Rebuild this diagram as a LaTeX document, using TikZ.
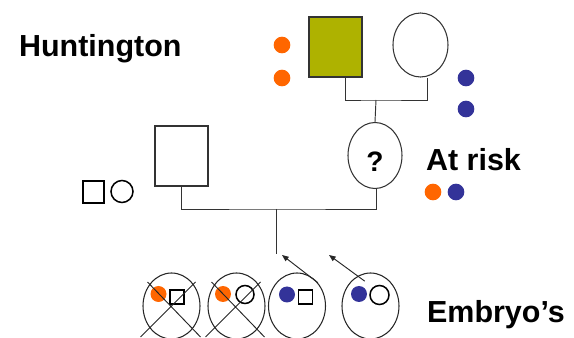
\documentclass[tikz,border=0pt]{standalone}
\usepackage{fontspec}
\setmainfont{Liberation Sans}
\usetikzlibrary{shapes.geometric,arrows.meta}
\definecolor{hdorange}{RGB}{255,102,0}
\definecolor{hdblue}{RGB}{51,51,153}
\definecolor{hdolive}{RGB}{174,178,0}

\begin{document}
\begin{tikzpicture}[x=0.03cm, y=-0.03cm,
		male_style/.style={rectangle,draw=black!80,line width=0.9pt,inner sep=0pt,minimum width=1.59cm,minimum height=1.8cm},
		female_style/.style={ellipse,draw=black!80,line width=0.9pt,inner sep=0pt,minimum width=1.65cm,minimum height=1.92cm},
		embryo_style/.style={ellipse,draw=black!85,line width=0.9pt,inner sep=0pt,minimum width=1.71cm,minimum height=1.98cm},
		dot_style/.style={circle,inner sep=0pt,minimum size=0.5cm},
		sq_style/.style={rectangle,draw=black,line width=1.3pt,inner sep=0pt,minimum size=0.42cm},
		ci_style/.style={circle,draw=black,line width=1.3pt,inner sep=0pt,minimum size=0.54cm},
		label_style/.style={anchor=base west,font=\fontsize{26}{30}\selectfont\bfseries},
		edge_style/.style={draw=black!80,line width=0.8pt},
		cut_style/.style={draw=black!85,line width=0.8pt},
		arrow_style/.style={draw=black!85,line width=0.8pt,-{Triangle[length=0.2cm,width=0.16cm]}}]

		\useasboundingbox (0,0) rectangle (574,338);

		% labels
		\node[label_style] (hunt) at (15,57) {Huntington};
		\node[label_style] (risk) at (422,171) {At risk};
		\node[label_style] (embr) at (423,322) {Embryo’s};

		% first generation
		\node[male_style,fill=hdolive] (fa) at (335.5,47) {};
		\node[female_style] (mo) at (420.5,45) {};
		\node[dot_style,fill=hdorange] (fa1) at (282,45) {};
		\node[dot_style,fill=hdorange] (fa2) at (282,78) {};
		\node[dot_style,fill=hdblue] (mo1) at (466,78) {};
		\node[dot_style,fill=hdblue] (mo2) at (466,109) {};
		\coordinate (cp1) at (376,100);

		% second generation
		\node[female_style,minimum width=1.62cm,minimum height=1.98cm] (child) at (375,155.5) {};
		\node[font=\fontsize{24}{28}\selectfont\bfseries] (qmark) at (375,161.5) {?};
		\node[male_style] (pa) at (181.5,156) {};
		\node[dot_style,fill=hdorange] (ch1) at (433,192) {};
		\node[dot_style,fill=hdblue] (ch2) at (456,192) {};
		\node[sq_style,line width=1.6pt,minimum width=0.63cm,minimum height=0.66cm] (pa1) at (93.5,192) {};
		\node[ci_style,minimum size=0.66cm] (pa2) at (122,191.5) {};
		\coordinate (cp2) at (276,209);
		\coordinate (sib) at (276,254);

		% embryos
		\node[embryo_style] (e1) at (171.5,306) {};
		\node[embryo_style] (e2) at (236.5,306) {};
		\node[embryo_style] (e3) at (297,306) {};
		\node[embryo_style] (e4) at (370.5,306) {};
		\node[dot_style,minimum size=0.48cm,fill=hdorange] (e1a) at (158.5,294) {};
		\node[sq_style] (e1b) at (177,297) {};
		\node[dot_style,minimum size=0.48cm,fill=hdorange] (e2a) at (223,294) {};
		\node[ci_style] (e2b) at (245,294.5) {};
		\node[dot_style,minimum size=0.48cm,fill=hdblue] (e3a) at (287,294.5) {};
		\node[sq_style] (e3b) at (305.5,297) {};
		\node[dot_style,minimum size=0.48cm,fill=hdblue] (e4a) at (359,294) {};
		\node[ci_style,minimum size=0.57cm] (e4b) at (379.5,295) {};
		\coordinate (tip3) at (282,255);
		\coordinate (tip4) at (329,255);

		\draw[edge_style]  ([xshift=0.31cm]fa.south) |- (cp1) -| ([xshift=0.2cm]mo.south);
		\draw[edge_style]  (cp1) edge node{} (child.north);
		\draw[edge_style]  (pa.south) |- (cp2) -| ([xshift=0.03cm]child.south);
		\draw[edge_style]  (cp2) edge node{} (sib);
		\draw[cut_style]  (e1.center) ++(-24,-24) -- ++(53,55) (e1.center) ++(-31,31) -- ++(55,-55);
		\draw[cut_style]  (e2.center) ++(-25,-24) -- ++(53,55) (e2.center) ++(-31,31) -- ++(55,-55);
		\draw[arrow_style]  (e3.48) -- (tip3);
		\draw[arrow_style]  ([yshift=-0.24cm]e4.100) -- (tip4);
\end{tikzpicture}
\end{document}
